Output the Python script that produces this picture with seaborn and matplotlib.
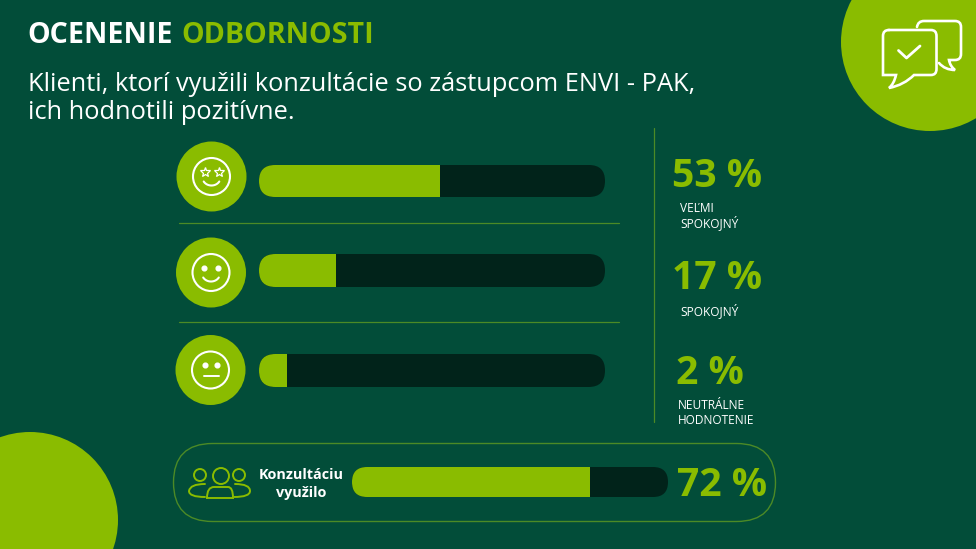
"""
Ocenenie odbornosti - infographic with progress bars, drawn with seaborn.
"""

import matplotlib
matplotlib.use("Agg")
import matplotlib.pyplot as plt
import numpy as np
import seaborn as sns
from matplotlib.patches import Circle, FancyBboxPatch, PathPatch
from matplotlib.path import Path

# ------------------------------------------------------------------
# Data
# ------------------------------------------------------------------
ratings = ["VEĽMI\nSPOKOJNÝ", "SPOKOJNÝ", "NEUTRÁLNE\nHODNOTENIE"]
rating_pct = [53, 17, 2]
# the source bars are not to scale, so this is the filled share as drawn
rating_fill = [52.3, 22.3, 8.0]

consult_label = "Konzultáciu\nvyužilo"
consult_pct = 72
consult_fill = 75.3

title_left = "OCENENIE"
title_right = "ODBORNOSTI"
subtitle = ["Klienti, ktorí využili konzultácie so zástupcom ENVI - PAK,",
            "ich hodnotili pozitívne."]

BG = "#024d39"
GREEN = "#8abc00"
TRACK = "#01231a"
LINE = "#4c8a26"
WHITE = "#ffffff"
W, H = 976, 549

sns.set_theme(style="white")
plt.rcParams["font.family"] = ["Open Sans", "DejaVu Sans"]

fig = plt.figure(figsize=(W / 100, H / 100), dpi=100, facecolor=BG)

# pixel canvas for everything that is not a bar
bg = fig.add_axes([0, 0, 1, 1])
bg.set_xlim(0, W)
bg.set_ylim(H, 0)
bg.axis("off")


def progress_bar(fill, x0, x1, y0, y1, name):
    ax = fig.add_axes([x0 / W, 1 - y1 / H, (x1 - x0) / W, (y1 - y0) / H])
    sns.barplot(x=[100], y=[name], orient="h", color=TRACK, saturation=1, width=1,
                linewidth=0, edgecolor="none", ax=ax)
    sns.barplot(x=[fill], y=[name], orient="h", color=GREEN, saturation=1, width=1,
                linewidth=0, edgecolor="none", ax=ax)
    ax.set_xlim(0, 100)
    ax.axis("off")
    # round the ends of the bars
    r = (y1 - y0) / 2
    shape = FancyBboxPatch((x0, y0), x1 - x0, y1 - y0,
                           boxstyle=f"round,pad=0,rounding_size={r}",
                           transform=bg.transData)
    for bar in ax.patches:
        bar.set_clip_path(shape)


def line_path(pts, lw=1.8, color=WHITE):
    xs, ys = zip(*pts)
    bg.plot(xs, ys, color=color, lw=lw, solid_capstyle="round", solid_joinstyle="round")


def curve(verts, codes, lw=1.8, color=WHITE):
    bg.add_patch(PathPatch(Path(verts, codes), fc="none", ec=color, lw=lw, capstyle="round"))


def arc(cx, cy, rx, ry, a0, a1, lw=1.5, color=WHITE):
    t = np.radians(np.linspace(a0, a1, 40))
    bg.plot(cx + rx * np.cos(t), cy + ry * np.sin(t), color=color, lw=lw, solid_capstyle="round")


# corner circles
bg.add_patch(Circle((930, 42), 89, fc=GREEN, ec="none"))
bg.add_patch(Circle((30, 520), 88, fc=GREEN, ec="none"))

# title
bg.text(27, 43, title_left, color=WHITE, fontsize=20.6, fontweight="bold", va="baseline")
bg.text(181, 43, title_right, color=GREEN, fontsize=20.6, fontweight="bold", va="baseline")
bg.text(28, 91, subtitle[0], color=WHITE, fontsize=18.3, va="baseline")
bg.text(28, 119, subtitle[1], color=WHITE, fontsize=18.3, va="baseline")

# chat bubbles
M, L, C3 = Path.MOVETO, Path.LINETO, Path.CURVE3
curve([(889, 30), (931, 30), (936.5, 30), (936.5, 36), (936.5, 69), (936.5, 75), (931, 75),
       (914, 75), (904, 85), (889, 88), (894, 84), (896, 75), (889, 75), (883, 75), (883, 69),
       (883, 36), (883, 30), (889, 30)],
      [M, L, C3, C3, L, C3, C3, L, C3, C3, C3, C3, C3, C3, C3, L, C3, C3], lw=1.9)
curve([(917, 27), (918, 21), (924, 21), (955, 21), (961, 21), (961, 27), (961, 54), (961, 60),
       (955, 60), (949, 60), (950, 66), (955, 70), (945, 70), (939, 63)],
      [M, C3, C3, L, C3, C3, L, C3, C3, L, C3, C3, C3, C3], lw=1.9)
line_path([(898.5, 50.5), (906.5, 58), (920, 46)], lw=2)

# rating rows
face_centers = [(211.5, 176.5), (211, 272.5), (210.5, 370)]
bar_rows = [(165, 197), (254, 287), (354, 387)]
pct_pos = [(672, 187), (672, 289), (676, 384)]
label_pos = [(680, 212), (680, 315), (678, 409)]
names = ["top", "mid", "low"]

for i in range(len(ratings)):
    cx, cy = face_centers[i]
    bg.add_patch(Circle((cx, cy), 35, fc=GREEN, ec="none"))
    bg.add_patch(Circle((cx, cy), 18.5, fc="none", ec=WHITE, lw=1.5))
    progress_bar(rating_fill[i], 259, 605, bar_rows[i][0], bar_rows[i][1], names[i])
    bg.text(pct_pos[i][0], pct_pos[i][1], f"{rating_pct[i]} %", color=GREEN,
            fontsize=28.2, fontweight="bold", va="baseline")
    for k, row in enumerate(ratings[i].split("\n")):
        bg.text(label_pos[i][0], label_pos[i][1] + k * 15, row, color=WHITE,
                fontsize=8.6, va="baseline")

# faces
cx, cy = face_centers[0]
bg.plot([cx - 7, cx + 7], [cy - 5, cy - 5], ls="none", marker="*", ms=7.5, mfc="none", mec=WHITE, mew=0.9)
arc(cx, cy + 1, 9, 8, 30, 150)
cx, cy = face_centers[1]
bg.plot([cx - 7, cx + 7], [cy - 5, cy - 5], ls="none", marker="o", ms=3.4, color=WHITE)
arc(cx, cy + 1, 9, 8, 30, 150)
cx, cy = face_centers[2]
bg.plot([cx - 6, cx + 6], [cy - 5, cy - 5], ls="none", marker="o", ms=3.4, color=WHITE)
line_path([(cx - 7, cy + 5.5), (cx + 8, cy + 5.5)], lw=1.4)

# separators
bg.plot([179, 619], [223, 223], color=LINE, lw=0.9)
bg.plot([179, 619], [322, 322], color=LINE, lw=0.9)
bg.plot([654, 654], [128, 422], color=LINE, lw=0.9)

# consultation pill
bg.add_patch(FancyBboxPatch((173.5, 443.5), 602, 78, boxstyle="round,pad=0,rounding_size=39",
                            fc="none", ec=LINE, lw=1))
progress_bar(consult_fill, 352, 668, 467, 497, "all")
bg.text(301, 479, consult_label.split("\n")[0], color=WHITE, fontsize=10.4, fontweight="bold",
        ha="center", va="baseline")
bg.text(301, 497, consult_label.split("\n")[1], color=WHITE, fontsize=10.4, fontweight="bold",
        ha="center", va="baseline")
bg.text(677, 496, f"{consult_pct} %", color=GREEN, fontsize=28.2, fontweight="bold", va="baseline")

# people icon
for x, y, r in [(200, 475, 6), (221, 476, 8), (239, 475, 6)]:
    bg.add_patch(Circle((x, y), r, fc="none", ec=GREEN, lw=1.4))
curve([(205, 484), (190, 484), (189, 491), (189, 497), (205, 497)], [M, C3, C3, C3, C3], lw=1.4, color=GREEN)
curve([(235, 484), (250, 484), (250, 491), (250, 497), (234, 497)], [M, C3, C3, C3, C3], lw=1.4, color=GREEN)
curve([(207, 498), (207, 487), (214, 487), (228, 487), (233, 487), (233, 498), (207, 498)],
      [M, C3, C3, L, C3, C3, L], lw=1.4, color=GREEN)

fig.savefig("out.png", dpi=100, facecolor=BG)
